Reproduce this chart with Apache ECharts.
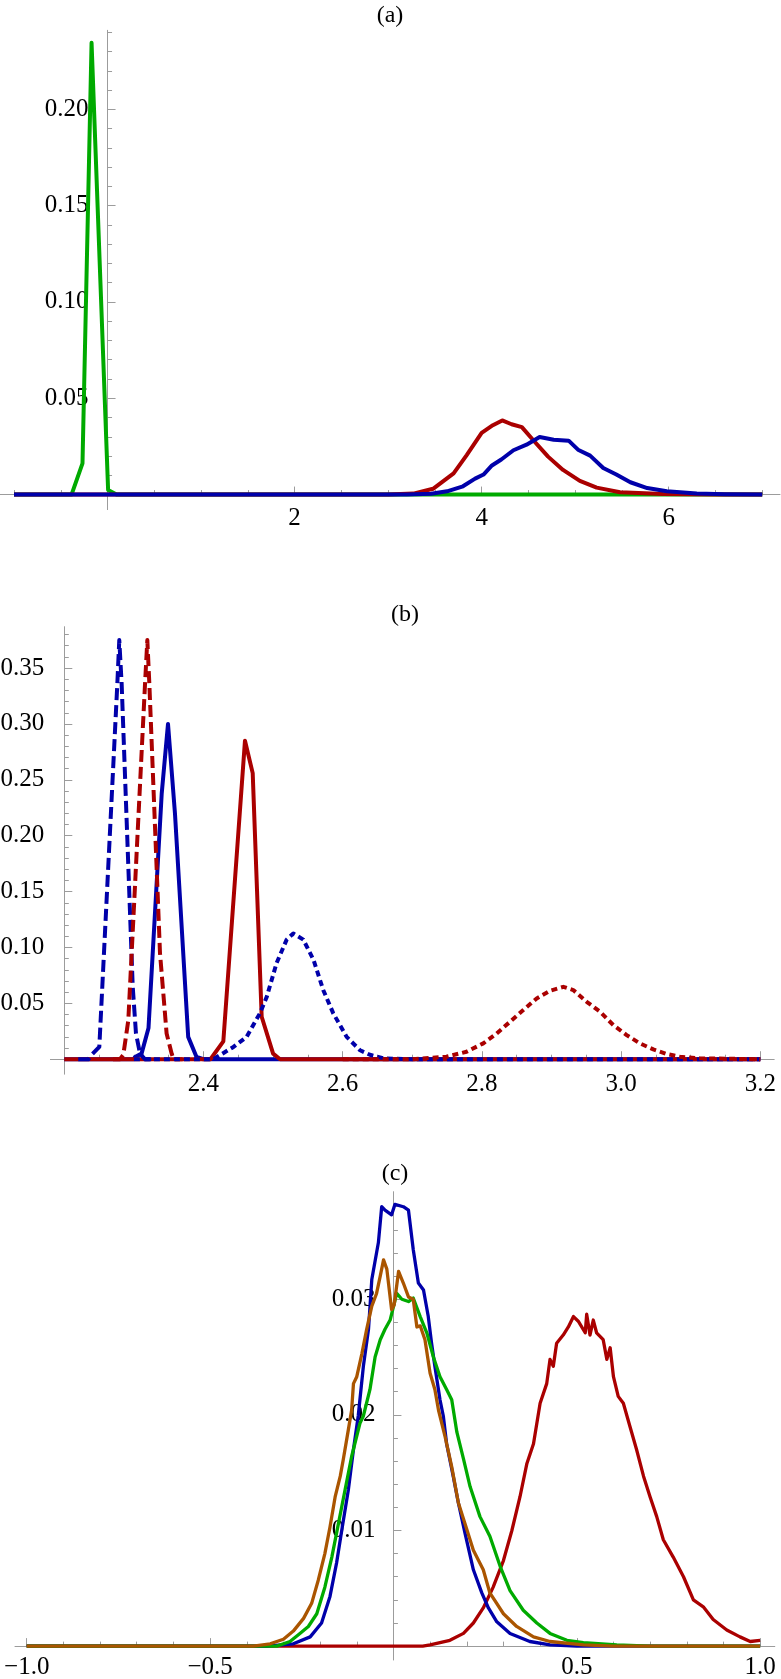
<!DOCTYPE html>
<html><head><meta charset="utf-8">
<script src="https://cdn.jsdelivr.net/npm/echarts@6/dist/echarts.min.js"></script>
<style>html,body{margin:0;padding:0;background:#fff;}#c{width:781px;height:1679px;}</style>
</head><body><div id="c"></div>
<script>
// ---------- DATA ----------
// Panel (a)  [x, density]
const aGreen = [[-1,0],[-0.385,0],[-0.268,0.0162],[-0.171,0.2345],[0.006,0.0024],[0.096,0],[7,0]];
const aRed = [[-1,0],[3.0,0],[3.27,0.0005],[3.48,0.003],[3.70,0.011],[3.84,0.0205],[4.0,0.032],[4.12,0.036],[4.22,0.0385],[4.32,0.0365],[4.43,0.035],[4.55,0.0283],[4.71,0.0197],[4.87,0.0128],[5.05,0.0071],[5.23,0.0036],[5.48,0.0012],[5.94,0.0003],[6.5,0],[7,0]];
const aBlue = [[-1,0],[3.2,0],[3.46,0.0004],[3.63,0.0017],[3.80,0.0043],[3.93,0.0083],[4.02,0.0104],[4.11,0.0151],[4.21,0.0182],[4.34,0.023],[4.48,0.0259],[4.62,0.0299],[4.77,0.0285],[4.93,0.028],[5.03,0.0233],[5.16,0.0202],[5.30,0.0138],[5.44,0.0104],[5.59,0.0064],[5.77,0.0034],[5.98,0.0017],[6.30,0.0005],[6.6,0.0002],[7,0]];
// Panel (b)
const bBlueSolid = [[2.2,0],[2.30,0],[2.3016,0.002],[2.311,0.005],[2.321,0.028],[2.340,0.238],[2.349,0.300],[2.359,0.220],[2.378,0.020],[2.390,0.002],[2.40,0],[3.2,0]];
const bRedSolid = [[2.2,0],[2.41,0],[2.4285,0.016],[2.4596,0.285],[2.4707,0.256],[2.4836,0.038],[2.50,0.005],[2.51,0],[3.2,0]];
const bBlueDashed = [[2.22,0],[2.235,0],[2.2394,0.004],[2.2503,0.011],[2.2762,0.336],[2.279,0.375],[2.2824,0.336],[2.2983,0.065],[2.303,0.023],[2.3088,0.005],[2.316,0],[2.33,0]];
const bRedDashed = [[2.27,0],[2.28,0],[2.2848,0.004],[2.292,0.035],[2.316,0.336],[2.3193,0.375],[2.3222,0.336],[2.3375,0.095],[2.347,0.023],[2.3543,0.005],[2.357,0],[2.37,0]];
const bBlueDotted = [[2.30,0],[2.414,0],[2.443,0.011],[2.462,0.020],[2.481,0.041],[2.491,0.056],[2.505,0.086],[2.5195,0.107],[2.529,0.1125],[2.5434,0.107],[2.558,0.089],[2.572,0.062],[2.5865,0.041],[2.6057,0.020],[2.625,0.008],[2.639,0.004],[2.66,0.0007],[2.70,0],[3.2,0]];
const bRedDotted = [[2.60,0],[2.70,0],[2.749,0.0022],[2.778,0.0067],[2.802,0.0142],[2.8213,0.0231],[2.8404,0.0335],[2.8595,0.044],[2.8787,0.0544],[2.8978,0.0612],[2.917,0.0648],[2.9313,0.0619],[2.9506,0.0514],[2.9697,0.0425],[2.9888,0.0306],[3.008,0.0216],[3.027,0.0142],[3.0463,0.0088],[3.0655,0.0047],[3.0846,0.0022],[3.1133,0.0008],[3.2,0]];
// Panel (c)
const cRed = [[-1,0],[0.08,0],[0.1,0.0001],[0.154,0.0005],[0.191,0.0011],[0.218,0.002],[0.245,0.0033],[0.272,0.0051],[0.3,0.0074],[0.323,0.010],[0.345,0.0129],[0.364,0.0158],[0.382,0.0175],[0.4,0.021],[0.418,0.0227],[0.427,0.0248],[0.436,0.0242],[0.445,0.0262],[0.463,0.0269],[0.477,0.0276],[0.491,0.0285],[0.504,0.0281],[0.523,0.0271],[0.527,0.0287],[0.536,0.0269],[0.545,0.0282],[0.554,0.0271],[0.572,0.0265],[0.582,0.0248],[0.591,0.0258],[0.6,0.0233],[0.613,0.0216],[0.627,0.021],[0.645,0.019],[0.663,0.017],[0.682,0.0147],[0.7,0.0129],[0.718,0.0112],[0.736,0.0092],[0.763,0.0077],[0.791,0.006],[0.818,0.004],[0.845,0.0034],[0.872,0.0023],[0.909,0.0014],[0.945,0.0008],[0.973,0.0004],[1.0,0.0005]];
const cBlue = [[-1,0],[-0.346,0],[-0.273,0.0002],[-0.227,0.0008],[-0.196,0.002],[-0.173,0.0043],[-0.155,0.0072],[-0.141,0.010],[-0.123,0.0135],[-0.109,0.017],[-0.096,0.0199],[-0.082,0.0242],[-0.068,0.0274],[-0.059,0.0317],[-0.041,0.0349],[-0.032,0.038],[-0.023,0.0377],[-0.005,0.0373],[0.004,0.0382],[0.027,0.038],[0.041,0.0377],[0.054,0.0343],[0.068,0.0314],[0.082,0.0308],[0.095,0.0285],[0.104,0.0262],[0.113,0.0242],[0.127,0.0213],[0.136,0.0199],[0.145,0.0175],[0.163,0.0147],[0.177,0.0124],[0.195,0.0098],[0.218,0.0066],[0.241,0.0046],[0.259,0.0033],[0.282,0.0021],[0.318,0.0011],[0.372,0.0004],[0.427,0.0001],[0.5,0],[1.0,0]];
const cGreen = [[-1,0],[-0.318,0],[-0.282,0.0004],[-0.255,0.0011],[-0.232,0.0017],[-0.209,0.0028],[-0.187,0.0051],[-0.168,0.0077],[-0.15,0.0106],[-0.132,0.0135],[-0.114,0.0164],[-0.091,0.0193],[-0.082,0.0199],[-0.064,0.0222],[-0.05,0.025],[-0.036,0.0265],[-0.023,0.0274],[-0.009,0.0282],[0.009,0.0305],[0.023,0.030],[0.041,0.0298],[0.054,0.0301],[0.073,0.0285],[0.091,0.0271],[0.109,0.025],[0.127,0.0233],[0.145,0.0222],[0.159,0.0213],[0.173,0.0185],[0.191,0.0162],[0.209,0.0138],[0.236,0.0112],[0.263,0.0095],[0.291,0.0069],[0.318,0.0048],[0.354,0.0031],[0.391,0.002],[0.427,0.0011],[0.473,0.0005],[0.518,0.0003],[0.609,0.0001],[0.7,0],[1.0,0]];
const cOrange = [[-1,0],[-0.382,0],[-0.336,0.0002],[-0.3,0.0006],[-0.273,0.0013],[-0.245,0.0024],[-0.223,0.0037],[-0.205,0.0057],[-0.187,0.008],[-0.173,0.0103],[-0.159,0.0129],[-0.145,0.0147],[-0.137,0.0161],[-0.123,0.0187],[-0.114,0.0204],[-0.109,0.0227],[-0.1,0.0233],[-0.086,0.0253],[-0.073,0.0274],[-0.059,0.0294],[-0.046,0.0305],[-0.036,0.032],[-0.027,0.0334],[-0.018,0.0326],[-0.005,0.0291],[0.002,0.0295],[0.014,0.0324],[0.027,0.0314],[0.041,0.0302],[0.054,0.030],[0.064,0.0276],[0.073,0.0277],[0.086,0.0265],[0.1,0.0236],[0.113,0.0222],[0.123,0.0204],[0.141,0.0181],[0.159,0.0155],[0.177,0.0124],[0.195,0.0106],[0.218,0.0083],[0.245,0.0066],[0.263,0.0046],[0.3,0.0028],[0.336,0.0017],[0.382,0.0008],[0.427,0.0004],[0.518,0.0001],[0.6,0],[1.0,0]];
// Tick labels
const aXLabels = [2,4,6];
const aYLabels = [0.05,0.10,0.15,0.20];
const bXLabels = [2.4,2.6,2.8,3.0,3.2];
const bYLabels = [0.05,0.10,0.15,0.20,0.25,0.30,0.35];
const cXLabels = [-1.0,-0.5,0.5,1.0];
const cYLabels = [0.01,0.02,0.03];
const titles = ['(a)','(b)','(c)'];

// ---------- STYLE / HELPERS ----------
const FONT = "'Liberation Serif','Times New Roman',serif";
const AXC = '#9c9c9c';
const RED = '#aa0000', BLUE = '#0000aa', GREEN = '#00aa00', ORANGE = '#aa5500';
function steps(a, b, s) {
  const out = []; const n = Math.round((b - a) / s);
  for (let i = 0; i <= n; i++) out.push(+(a + i * s).toFixed(6));
  return out;
}
function near(v, arr){ return arr.some(e => Math.abs(e - v) < 1e-9); }
function axis(o) {
  return {
    type: 'value', gridIndex: o.g, min: o.min, max: o.max, show: o.show !== false,
    offset: o.offset || 0,
    axisLine: { show: true, onZero: o.offset == null, lineStyle: { color: AXC, width: 1, opacity: o.line ? 1 : 0 } },
    axisTick: { show: !!(o.ticks && o.ticks.length), inside: true, length: o.len || 8,
      customValues: o.ticks || [], lineStyle: { color: AXC, width: 1 } },
    axisLabel: { show: !!(o.labels && o.labels.length), customValues: o.labels || [], margin: o.margin || 10,
      formatter: o.fmt, fontFamily: FONT, fontSize: 25, color: '#000' },
    splitLine: { show: false }, minorTick: { show: false }, minorSplitLine: { show: false }
  };
}
function line(data, xi, yi, color, width, dash) {
  return { type: 'line', data, xAxisIndex: xi, yAxisIndex: yi, showSymbol: false, symbol: 'none',
    animation: false, silent: true, clip: true,
    lineStyle: { color, width, type: dash || 'solid', cap: 'butt', join: 'round' } };
}
const fmt2 = v => v.toFixed(2);
const fmtA = v => String(Math.round(v));
const fmtB = v => v.toFixed(1);
const fmtC = v => (v < 0 ? '\u2212' + (-v).toFixed(1) : v.toFixed(1));

// ---------- LAYOUT ----------
const A = { left: 0, top: 30.3, width: 780, height: 479.3, x0: -1.15, x1: 7.19, y0: -0.0078, y1: 0.241 };
const B0 = { left: 50.4, top: 626.7, width: 723.8, height: 447.5, x0: 2.18, x1: 3.22, y0: -0.0134, y1: 0.387 };
const B1 = { left: 64.3, top: 626.7, width: 709.9, height: 447.5, x0: 2.2, x1: 3.22, y0: -0.0134, y1: 0.387 };
const C = { left: 15.0, top: 1191.7, width: 759.8, height: 468.3, x0: -1.032, x1: 1.04, y0: -0.0012, y1: 0.0393 };
// axis offsets that put the labelled axes on the value-zero lines of their grids
const yOff = r => -r.width * (0 - r.x0) / (r.x1 - r.x0);
const xOff = r => -r.height * (0 - r.y0) / (r.y1 - r.y0);

function gridOf(r){ return { left: r.left, top: r.top, width: r.width, height: r.height, containLabel: false, outerBoundsMode: 'none' }; }
const grids = [gridOf(A), gridOf(A), gridOf(B0), gridOf(B1), gridOf(B1), gridOf(C), gridOf(C)];

const aXMinor = steps(-1, 7, 0.5).filter(v => !near(v, [0, 2, 4, 6]));
const aYMinor = steps(0.01, 0.24, 0.01).filter(v => !near(v, aYLabels));
const bXMinor = steps(2.25, 3.15, 0.05).filter(v => !near(v, bXLabels));
const bYMinor = steps(0.01, 0.38, 0.01).filter(v => !near(v, bYLabels));
const cXMinor = steps(-0.9, 0.9, 0.1).filter(v => !near(v, [-0.5, 0, 0.5]));
const cYMinor = steps(0.002, 0.038, 0.002).filter(v => !near(v, cYLabels));

const xAxes = [
  axis({ g: 0, min: A.x0, max: A.x1, line: true, ticks: aXMinor, len: 4.5 }),
  axis({ g: 1, min: A.x0, max: A.x1, ticks: aXLabels, len: 8, labels: aXLabels, margin: 11, fmt: fmtA, offset: xOff(A) }),
  axis({ g: 2, min: B0.x0, max: B0.x1, line: true, ticks: bXMinor, len: 4.5 }),
  axis({ g: 3, min: B1.x0, max: B1.x1, ticks: bXLabels, len: 8, labels: bXLabels, margin: 13, fmt: fmtB, offset: xOff(B1) }),
  axis({ g: 4, min: B1.x0, max: B1.x1, offset: 0 }),
  axis({ g: 5, min: C.x0, max: C.x1, line: true, ticks: cXMinor, len: 4.5 }),
  axis({ g: 6, min: C.x0, max: C.x1, ticks: cXLabels, len: 8, labels: cXLabels, margin: 9, fmt: fmtC, offset: xOff(C) })
];
const yAxes = [
  axis({ g: 0, min: A.y0, max: A.y1, line: true, ticks: aYMinor, len: 4.5 }),
  axis({ g: 1, min: A.y0, max: A.y1, ticks: aYLabels, len: 8, labels: aYLabels, margin: 19, fmt: fmt2, offset: yOff(A) }),
  axis({ g: 2, min: B0.y0, max: B0.y1 }),
  axis({ g: 3, min: B1.y0, max: B1.y1, line: true, ticks: bYMinor, len: 4.5, offset: 0 }),
  axis({ g: 4, min: B1.y0, max: B1.y1, ticks: bYLabels, len: 8, labels: bYLabels, margin: 20, fmt: fmt2, offset: 0 }),
  axis({ g: 5, min: C.y0, max: C.y1, line: true, ticks: cYMinor, len: 4.5 }),
  axis({ g: 6, min: C.y0, max: C.y1, ticks: cYLabels, len: 8, labels: cYLabels, margin: 18, fmt: fmt2, offset: yOff(C) })
];

const series = [
  line(aGreen, 0, 0, GREEN, 4),
  line(aRed, 0, 0, RED, 4),
  line(aBlue, 0, 0, BLUE, 4),
  line(bBlueSolid, 3, 3, BLUE, 4),
  line(bRedSolid, 3, 3, RED, 4),
  line(bBlueDashed, 3, 3, BLUE, 4, [12, 5]),
  line(bRedDashed, 3, 3, RED, 4, [12, 5]),
  line(bBlueDotted, 3, 3, BLUE, 4, [6, 4]),
  line(bRedDotted, 3, 3, RED, 4, [6, 4]),
  line(cRed, 5, 5, RED, 3.3),
  line(cBlue, 5, 5, BLUE, 3.3),
  line(cGreen, 5, 5, GREEN, 3.3),
  line(cOrange, 5, 5, ORANGE, 3.3)
];

const tStyle = { fontFamily: FONT, fontSize: 24, fontWeight: 'normal', color: '#000' };
const title = [
  { text: titles[0], left: 390, top: 4, textAlign: 'center', padding: 0, textStyle: tStyle },
  { text: titles[1], left: 405, top: 603, textAlign: 'center', padding: 0, textStyle: tStyle },
  { text: titles[2], left: 395, top: 1162, textAlign: 'center', padding: 0, textStyle: tStyle }
];

const chart = echarts.init(document.getElementById('c'), null, { renderer: 'canvas', width: 781, height: 1679 });
chart.setOption({ animation: false, backgroundColor: '#fff', title, grid: grids, xAxis: xAxes, yAxis: yAxes, series });
</script></body></html>
